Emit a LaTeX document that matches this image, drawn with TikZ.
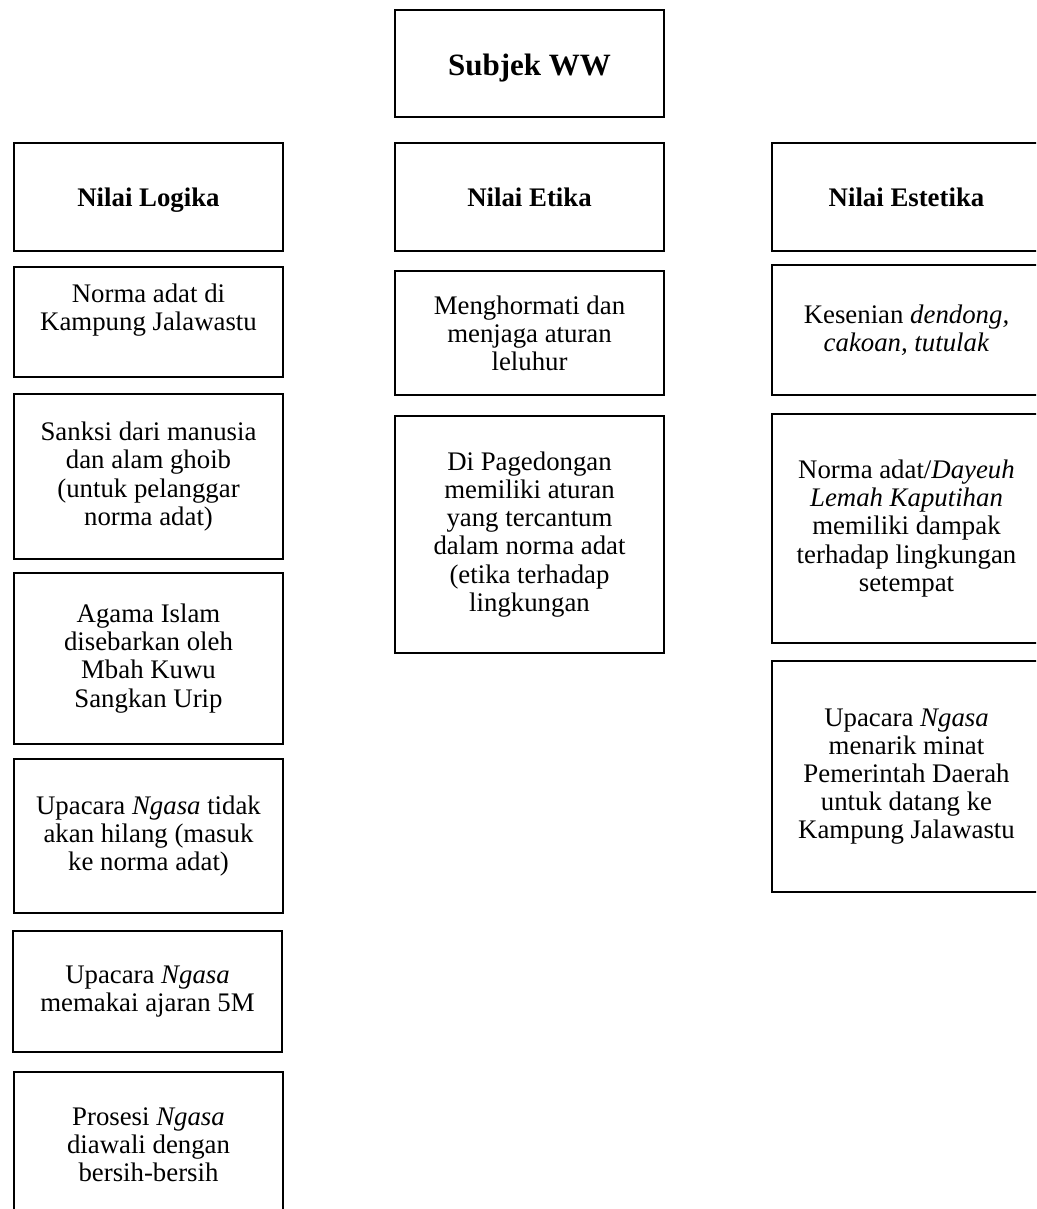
\documentclass[tikz,border=0pt]{standalone}
\usepackage{fontspec}
\setmainfont{Liberation Serif}
\usepackage{tikz}

\tikzset{
  box/.style={draw, line width=2.2pt, minimum width=269pt, inner sep=0pt, align=center,
    font=\fontsize{26.8}{28.1}\selectfont},
  head/.style={box, minimum height=108pt, text height=22pt, text depth=2pt,
    font=\fontsize{26.8}{28.1}\selectfont\bfseries}
}

\begin{document}
\begin{tikzpicture}[x=1pt,y=-1pt]
  \useasboundingbox (0,0) rectangle (1036,1209);
  \clip (0,0) rectangle (1036,1209);
  % kepala
  \node[head, minimum height=107pt, text height=28pt, text depth=3pt,
    font=\fontsize{31}{33}\selectfont\bfseries] (subjek) at (529.5,63.5) {Subjek WW};
  \node[head] (logika) at (148.5,197) {Nilai Logika};
  \node[head] (etika) at (529.5,197) {Nilai Etika};
  \node[head] (estetika) at (906.5,197) {Nilai Estetika};
  % kolom logika
  \node[box, minimum height=110pt, text depth=30pt] (lg1) at (148.5,322) {Norma adat di\\Kampung Jalawastu};
  \node[box, minimum height=165pt] (lg2) at (148.5,476.5) {Sanksi dari manusia\\dan alam ghoib\\(untuk pelanggar\\norma adat)};
  \node[box, minimum height=171pt] (lg3) at (148.5,658.5) {Agama Islam\\disebarkan oleh\\Mbah Kuwu\\Sangkan Urip};
  \node[box, minimum height=154pt] (lg4) at (148.5,836) {Upacara \textit{Ngasa} tidak\\akan hilang (masuk\\ke norma adat)};
  \node[box, minimum height=121pt] (lg5) at (147.5,991.5) {Upacara \textit{Ngasa}\\memakai ajaran 5M};
  \node[box, minimum height=146pt] (lg6) at (148.5,1145) {Prosesi \textit{Ngasa}\\diawali dengan\\bersih-bersih};
  % kolom etika
  \node[box, minimum height=124pt] (et1) at (529.5,333) {Menghormati dan\\menjaga aturan\\leluhur};
  \node[box, minimum height=237pt] (et2) at (529.5,534.5) {Di Pagedongan\\memiliki aturan\\yang tercantum\\dalam norma adat\\(etika terhadap\\lingkungan};
  % kolom estetika
  \node[box, minimum height=130pt] (es1) at (906.5,330) {Kesenian \textit{dendong,}\\\textit{cakoan, tutulak}};
  \node[box, minimum height=229pt] (es2) at (906.5,528.5) {Norma adat/\textit{Dayeuh}\\\textit{Lemah Kaputihan}\\memiliki dampak\\terhadap lingkungan\\setempat};
  \node[box, minimum height=231pt] (es3) at (906.5,776.5) {Upacara \textit{Ngasa}\\menarik minat\\Pemerintah Daerah\\untuk datang ke\\Kampung Jalawastu};
\end{tikzpicture}
\end{document}
